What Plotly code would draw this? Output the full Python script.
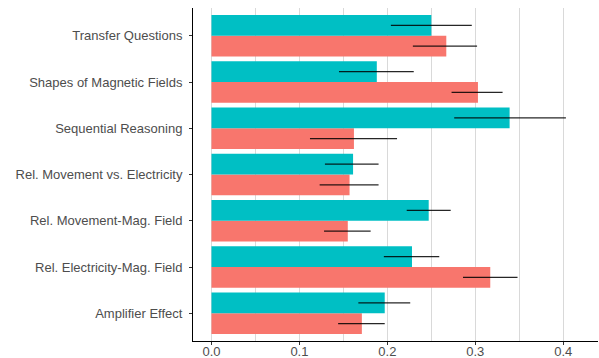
import plotly.graph_objects as go

categories = ["Amplifier Effect", "Rel. Electricity-Mag. Field", "Rel. Movement-Mag. Field",
              "Rel. Movement vs. Electricity", "Sequential Reasoning",
              "Shapes of Magnetic Fields", "Transfer Questions"]

red_values = [0.171, 0.317, 0.155, 0.157, 0.162, 0.303, 0.267]
red_low    = [0.144, 0.286, 0.128, 0.123, 0.112, 0.273, 0.229]
red_high   = [0.197, 0.348, 0.181, 0.190, 0.211, 0.331, 0.302]

teal_values = [0.197, 0.228, 0.247, 0.161, 0.339, 0.188, 0.250]
teal_low    = [0.167, 0.196, 0.222, 0.129, 0.276, 0.145, 0.204]
teal_high   = [0.226, 0.259, 0.272, 0.190, 0.403, 0.230, 0.296]

RED = "#F8766D"
TEAL = "#00BFC4"

def err(vals, lo, hi):
    return dict(type="data", symmetric=False,
                array=[h - v for v, h in zip(vals, hi)],
                arrayminus=[v - l for v, l in zip(vals, lo)],
                color="rgba(0,0,0,0.85)", thickness=1.1, width=0)

fig = go.Figure()
fig.add_trace(go.Bar(y=categories, x=red_values, orientation="h", marker_color=RED,
                     marker_line_width=0, error_x=err(red_values, red_low, red_high),
                     showlegend=False))
fig.add_trace(go.Bar(y=categories, x=teal_values, orientation="h", marker_color=TEAL,
                     marker_line_width=0, error_x=err(teal_values, teal_low, teal_high),
                     showlegend=False))

fig.update_layout(
    width=599, height=358,
    margin=dict(l=193, r=1, t=8, b=17, autoexpand=False),
    barmode="group", bargap=0.1, bargroupgap=0,
    plot_bgcolor="white", paper_bgcolor="white",
    font=dict(family="Liberation Sans, Arial, sans-serif", size=13, color="#4D4D4D"),
    xaxis=dict(range=[-0.021, 0.4395], tickvals=[0, 0.1, 0.2, 0.3, 0.4],
               ticktext=["0.0", "0.1", "0.2", "0.3", "0.4"], automargin=False,
               showgrid=True, gridcolor="#D9D9D9", gridwidth=1,
               minor=dict(tickvals=[0.05, 0.15, 0.25, 0.35], showgrid=True,
                          gridcolor="#D9D9D9", gridwidth=1, ticks=""),
               showline=True, linecolor="black", linewidth=1,
               ticks="outside", ticklen=3, tickcolor="#333333", zeroline=False,
               ticklabelstandoff=-5,
               tickfont=dict(size=13, color="#4D4D4D")),
    yaxis=dict(categoryorder="array", categoryarray=categories, range=[-0.6, 6.6],
               automargin=False, ticklabelstandoff=4,
               showgrid=False, showline=True, linecolor="black", linewidth=1,
               ticks="outside", ticklen=3, tickcolor="#333333",
               tickfont=dict(size=13, color="#4D4D4D")),
)

fig.write_html("out.html", config={"displayModeBar": False},
               post_script="document.body.style.margin='0';document.body.style.padding='0';")
